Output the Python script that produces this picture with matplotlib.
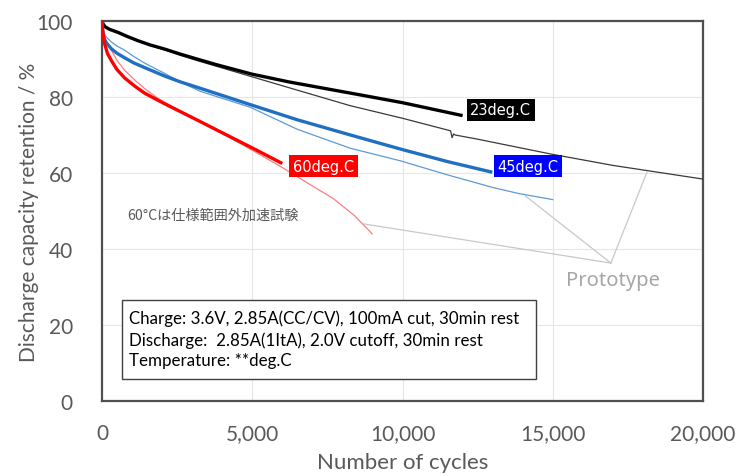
import matplotlib.pyplot as plt
from matplotlib.patches import Rectangle

# 23deg.C (thick) and prototype (thin)
cyc_23 = [0, 30, 100, 250, 533, 850, 1200, 1600, 2089, 2600, 3200, 3811, 5000, 6200, 7378, 8700,
          10000, 11000, 12000]
ret_23 = [100, 99.3, 98.5, 97.8, 97.0, 95.9, 94.8, 93.7, 92.6, 91.3, 89.9, 88.5, 86.0, 84.0, 82.3,
          80.4, 78.5, 76.8, 75.1]
cyc_23p = [0, 30, 100, 250, 533, 850, 1200, 1600, 2089, 2600, 3200, 5000, 6500, 8267, 10000,
           11600, 11650, 11700, 11750, 12500, 14933, 17000, 20000]
ret_23p = [100, 99.3, 98.5, 97.8, 96.9, 95.8, 94.7, 93.6, 92.4, 91.0, 89.5, 85.3, 81.8, 77.7, 74.4,
           71.1, 69.3, 70.3, 70.0, 68.9, 65.0, 62.0, 58.4]

# 45deg.C
cyc_45 = [0, 15, 30, 80, 150, 311, 500, 756, 1050, 1400, 2089, 2600, 3267, 4933, 6500, 8267, 9933,
          11500, 12990]
ret_45 = [100, 98.0, 96.5, 95.2, 94.2, 92.7, 91.5, 90.3, 89.0, 87.8, 85.5, 84.0, 82.3, 78.0, 74.0,
          70.0, 66.3, 63.0, 60.2]
cyc_45p = [0, 15, 40, 120, 311, 500, 756, 1050, 1400, 2089, 2600, 3267, 4933, 6500, 8267, 9933,
           11500, 13000, 13867, 15000]
ret_45p = [100, 98.6, 97.5, 96.0, 94.5, 93.4, 92.3, 90.7, 89.0, 86.2, 84.0, 81.5, 77.3, 71.5, 66.5,
           63.2, 59.5, 56.2, 54.6, 53.0]

# 60deg.C
cyc_60 = [0, 15, 30, 60, 89, 180, 311, 500, 756, 1100, 1422, 2089, 3000, 4000, 5000, 6000]
ret_60 = [100, 98.5, 97.0, 95.3, 94.0, 91.5, 89.6, 87.2, 85.0, 82.8, 81.0, 78.2, 74.6, 70.6, 66.6,
          62.5]
cyc_60p = [0, 20, 40, 133, 311, 500, 756, 1100, 1422, 1867, 2900, 3933, 5000, 5989, 7000, 7711,
           8400, 8989]
ret_60p = [100, 98.6, 97.5, 94.9, 92.3, 89.6, 87.0, 84.4, 82.2, 79.6, 75.0, 70.7, 66.0, 61.5, 56.6,
           53.2, 48.8, 44.0]

x_ticks = [0, 5000, 10000, 15000, 20000]
x_labels = ['0', '5,000', '10,000', '15,000', '20,000']
y_ticks = [0, 20, 40, 60, 80, 100]

conditions = ('Charge: 3.6V, 2.85A(CC/CV), 100mA cut, 30min rest\n'
              'Discharge:  2.85A(1ItA), 2.0V cutoff, 30min rest\n'
              'Temperature: **deg.C')

txt_gray = '#595959'

fig = plt.figure(figsize=(7.38, 4.77), dpi=100)
ax = fig.add_axes([0.1382, 0.1572, 0.8144, 0.7967])

ax.plot(cyc_23p, ret_23p, color='#3a3a3a', lw=0.9, zorder=3)
ax.plot(cyc_45p, ret_45p, color='#5b9bd5', lw=0.9, zorder=3)
ax.plot(cyc_60p, ret_60p, color='#ff7c80', lw=0.9, zorder=3)
ax.plot(cyc_23, ret_23, color='black', lw=2.4, zorder=4, solid_capstyle='butt')
ax.plot(cyc_45, ret_45, color='#1f70c1', lw=2.4, zorder=4, solid_capstyle='butt')
ax.plot(cyc_60, ret_60, color='#ff0000', lw=2.4, zorder=4, solid_capstyle='butt')

ax.set_xlim(0, 20000)
ax.set_ylim(0, 100)
ax.set_xticks(x_ticks)
ax.set_xticklabels(x_labels)
ax.set_yticks(y_ticks)
ax.grid(True, color='#e6e6e6', lw=0.8)
ax.set_axisbelow(True)
ax.tick_params(length=0, labelsize=15, labelcolor=txt_gray)
ax.tick_params(axis='y', pad=21)
ax.tick_params(axis='x', pad=16)
for lab in ax.get_xticklabels() + ax.get_yticklabels():
    lab.set_family('Lato')
for s in ax.spines.values():
    s.set_color('#505050')
    s.set_linewidth(1.6)

ax.set_xlabel('Number of cycles', fontsize=16, color=txt_gray, family='Lato')
ax.set_ylabel('Discharge capacity retention / %', fontsize=15, color=txt_gray, family='Lato')
ax.xaxis.set_label_coords(0.5, -0.135)
ax.yaxis.set_label_coords(-0.104, 0.5)

# series labels
ax.text(13267, 76.6, '23deg.C', color='white', fontsize=10.5, ha='center', va='center',
        bbox=dict(boxstyle='square,pad=0.25', fc='black', ec='none'), zorder=5)
ax.text(14167, 61.8, '45deg.C', color='white', fontsize=10.5, ha='center', va='center',
        bbox=dict(boxstyle='square,pad=0.25', fc='#0000ff', ec='none'), zorder=5)
ax.text(7367, 61.8, '60deg.C', color='white', fontsize=10.5, ha='center', va='center',
        bbox=dict(boxstyle='square,pad=0.25', fc='#ff0000', ec='none'), zorder=5)

ax.text(833, 49, '60°Cは仕様範囲外加速試験', color=txt_gray, fontsize=10.2, va='center',
        family=['Noto Sans CJK JP', 'DejaVu Sans'])

# prototype pointers
for px, py in [(8711, 46.6), (14100, 53.9), (18133, 60.2)]:
    ax.plot([16933, px], [36.3, py], color='#c8c8c8', lw=0.9, zorder=2)
ax.text(17000, 31.8, 'Prototype', color='#a6a6a6', fontsize=14.5, ha='center', va='center',
        family='Noto Sans')

# test conditions box
ax.add_patch(Rectangle((0.0333, 0.058), 0.689, 0.208, transform=ax.transAxes,
                       fc='white', ec='#404040', lw=1.0, zorder=6))
ax.text(0.045, 0.163, conditions, fontsize=12.2, color='black', va='center', ha='left',
        linespacing=1.36, family='Lato', transform=ax.transAxes, zorder=7)

fig.savefig('out.png', dpi=100)
